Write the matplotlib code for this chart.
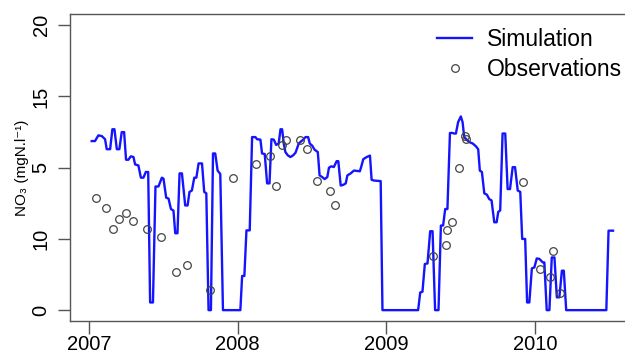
import numpy as np
import matplotlib
matplotlib.use("Agg")
from matplotlib import pyplot as plt

# simulated NO3, (decimal year, value)
sim_t = [2007.018, 2007.040, 2007.063, 2007.086, 2007.108, 2007.119, 2007.142, 2007.157, 2007.171, 2007.187,
         2007.204, 2007.220, 2007.236, 2007.249, 2007.265, 2007.281, 2007.299, 2007.310, 2007.332, 2007.349,
         2007.366, 2007.382, 2007.398, 2007.411, 2007.430, 2007.447, 2007.467, 2007.490, 2007.501, 2007.519,
         2007.535, 2007.551, 2007.568, 2007.580, 2007.595, 2007.609, 2007.625, 2007.647, 2007.663, 2007.676,
         2007.692, 2007.708, 2007.722, 2007.737, 2007.760, 2007.775, 2007.789, 2007.804, 2007.820, 2007.834,
         2007.849, 2007.865, 2007.883, 2007.901, 2008.018, 2008.030, 2008.045, 2008.059, 2008.081, 2008.097,
         2008.119, 2008.131, 2008.153, 2008.164, 2008.182, 2008.198, 2008.214, 2008.227, 2008.243, 2008.259,
         2008.276, 2008.288, 2008.299, 2008.310, 2008.321, 2008.337, 2008.355, 2008.373, 2008.389, 2008.411,
         2008.427, 2008.441, 2008.456, 2008.474, 2008.485, 2008.501, 2008.517, 2008.539, 2008.551, 2008.569,
         2008.585, 2008.603, 2008.614, 2008.630, 2008.647, 2008.666, 2008.677, 2008.693, 2008.711, 2008.727,
         2008.738, 2008.760, 2008.782, 2008.822, 2008.832, 2008.845, 2008.868, 2008.890, 2008.901, 2008.917,
         2008.962, 2008.974, 2009.214, 2009.228, 2009.243, 2009.259, 2009.277, 2009.295, 2009.311, 2009.328,
         2009.351, 2009.367, 2009.382, 2009.396, 2009.411, 2009.428, 2009.445, 2009.456, 2009.468, 2009.483,
         2009.501, 2009.513, 2009.524, 2009.547, 2009.558, 2009.581, 2009.603, 2009.618, 2009.629, 2009.643,
         2009.659, 2009.677, 2009.692, 2009.708, 2009.726, 2009.742, 2009.753, 2009.766, 2009.782, 2009.800,
         2009.816, 2009.832, 2009.850, 2009.866, 2009.884, 2009.901, 2009.914, 2009.934, 2009.947, 2009.962,
         2009.979, 2009.996, 2010.012, 2010.029, 2010.053, 2010.063, 2010.079, 2010.097, 2010.113, 2010.131,
         2010.147, 2010.164, 2010.181, 2010.194, 2010.210, 2010.480, 2010.495, 2010.525]
sim_v = [11.87, 11.87, 12.27, 12.22, 12.0, 11.3, 11.3, 12.7, 12.7, 11.3,
         11.3, 12.5, 12.5, 10.56, 10.56, 10.8, 10.75, 10.23, 10.16, 9.3,
         9.3, 9.7, 9.7, 0.54, 0.54, 8.68, 8.68, 9.3, 9.23, 7.9,
         7.83, 7.1, 6.99, 5.4, 5.4, 9.6, 9.6, 7.35, 7.35, 8.3,
         8.4, 9.3, 9.3, 10.3, 10.3, 8.3, 8.2, 0.0, 0.0, 11.0,
         11.0, 9.8, 9.56, 0.0, 0.0, 2.4, 2.4, 5.6, 5.6, 12.15,
         12.15, 12.0, 11.97, 11.0, 10.96, 8.9, 8.9, 12.0, 11.97, 11.6,
         11.7, 12.7, 12.7, 11.7, 11.1, 10.87, 10.75, 10.87, 11.05, 11.7,
         11.85, 11.97, 12.15, 12.15, 11.7, 11.55, 11.27, 11.1, 9.46, 9.34,
         9.2, 9.34, 10.0, 10.1, 10.05, 10.46, 10.46, 8.75, 8.8, 8.9,
         9.46, 9.6, 9.8, 9.75, 10.1, 10.6, 10.75, 10.85, 9.15, 9.1,
         9.06, 0.0, 0.0, 1.24, 1.29, 3.24, 3.28, 5.54, 5.54, 0.0,
         0.0, 5.94, 5.94, 7.1, 7.1, 12.44, 12.44, 12.4, 12.4, 13.2,
         13.6, 13.2, 12.15, 11.9, 11.8, 11.7, 11.5, 11.3, 9.8, 9.7,
         8.2, 8.1, 7.8, 7.7, 6.17, 6.17, 6.9, 7.0, 12.4, 12.4,
         8.5, 8.5, 10.04, 10.04, 8.4, 8.3, 5.0, 5.0, 0.54, 0.54,
         2.93, 3.0, 3.63, 3.6, 3.35, 3.35, 0.0, 0.0, 3.7, 3.7,
         0.9, 0.9, 2.77, 2.77, 0.0, 0.0, 5.58, 5.58]

# observed NO3
obs_t = [2007.047, 2007.113, 2007.164, 2007.204, 2007.249, 2007.299, 2007.389, 2007.483, 2007.587, 2007.659,
         2007.811, 2007.966, 2008.124, 2008.215, 2008.260, 2008.299, 2008.327, 2008.418, 2008.468, 2008.531,
         2008.620, 2008.652, 2009.315, 2009.401, 2009.405, 2009.445, 2009.490, 2009.531, 2009.535, 2009.920,
         2010.036, 2010.103, 2010.120, 2010.171]
obs_v = [7.86, 7.18, 5.73, 6.38, 6.83, 6.24, 5.68, 5.16, 2.7, 3.2,
         1.43, 9.25, 10.23, 10.8, 8.73, 11.6, 11.97, 11.97, 11.34, 9.1,
         8.4, 7.4, 3.8, 4.55, 5.63, 6.17, 9.97, 12.2, 12.04, 8.99,
         2.89, 2.3, 4.13, 1.17]

year_ticks = [2007, 2008, 2009, 2010]
y_ticks = [0, 5, 10, 15, 20]
y_tick_labels = ['0', '10', '5', '15', '20']

plt.rcParams['font.family'] = ['Liberation Sans', 'DejaVu Sans']

fig = plt.figure(figsize=(6.25, 3.56), dpi=100)
ax = fig.add_axes([0.112, 0.098, 0.89, 0.863])

ax.plot(sim_t, sim_v, color='#1414ff', lw=1.7, label='Simulation')
ax.plot(obs_t, obs_v, ls='none', marker='o', ms=5.5, mfc='none', mec='#444444', mew=0.9,
        label='Observations')

ax.set_xlim(2006.872, 2010.614)
ax.set_ylim(-0.77, 20.8)
ax.set_xticks(year_ticks)
ax.set_xticklabels([str(y) for y in year_ticks])
ax.set_yticks(y_ticks)
ax.set_yticklabels(y_tick_labels, rotation=90, va='center')

for s in ['left', 'bottom', 'top']:
    ax.spines[s].set_color('#555555')
    ax.spines[s].set_linewidth(1.0)
ax.spines['right'].set_visible(False)
ax.tick_params(axis='both', length=9, width=1.0, color='#555555', labelsize=14.5, labelcolor='black')
ax.tick_params(axis='x', pad=1)
ax.tick_params(axis='y', pad=5)

ax.set_ylabel('NO₃ (mgN.l⁻¹)', fontsize=11, labelpad=2)

ax.legend(loc='upper right', bbox_to_anchor=(1.022, 1.007), frameon=False, fontsize=16.5,
          handlelength=1.55, handletextpad=0.65, labelspacing=0.3, borderaxespad=0.3)

fig.savefig('out.png', dpi=100)
